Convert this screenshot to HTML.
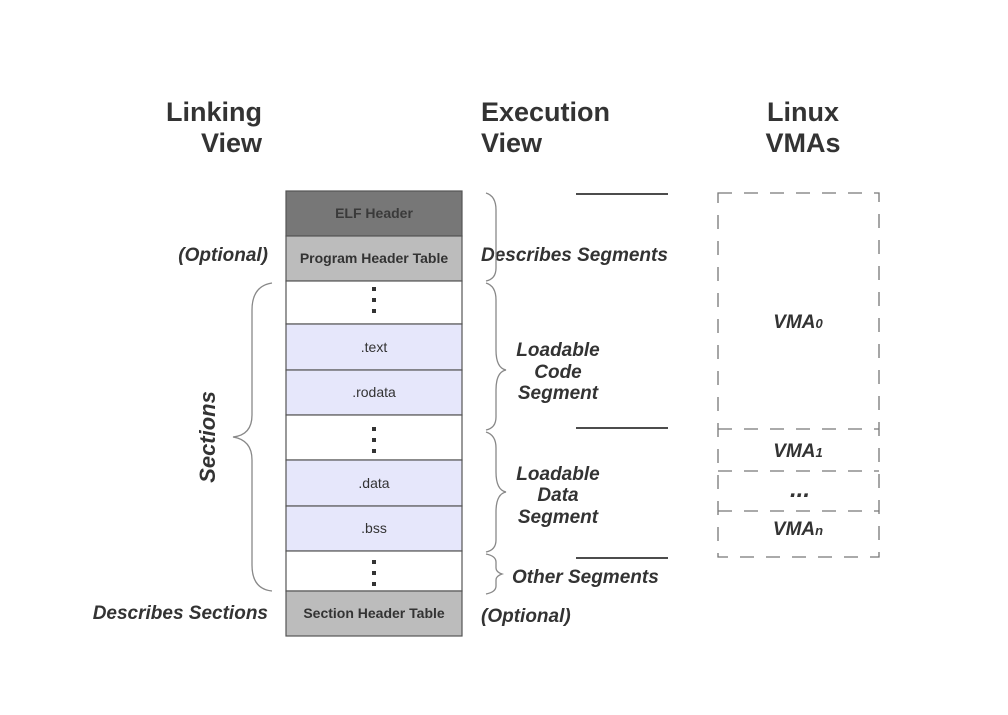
<!DOCTYPE html>
<html><head><style>body{margin:0;background:#fff}</style></head><body>
<svg width="1008" height="710" xmlns="http://www.w3.org/2000/svg" font-family="Liberation Sans, sans-serif">
<rect width="1008" height="710" fill="#fff"/>
<g font-weight="bold" font-size="27" fill="#333">
<text x="262" y="121" text-anchor="end">Linking</text>
<text x="262" y="152" text-anchor="end">View</text>
<text x="481" y="121">Execution</text>
<text x="481" y="152">View</text>
<text x="803" y="121" text-anchor="middle">Linux</text>
<text x="803" y="152" text-anchor="middle">VMAs</text>
</g>
<g stroke="#555" stroke-width="1.2">
<rect x="286" y="191" width="176" height="45" fill="#777"/>
<rect x="286" y="236" width="176" height="45" fill="#bcbcbc"/>
<rect x="286" y="281" width="176" height="43" fill="#fff"/>
<rect x="286" y="324" width="176" height="46" fill="#e6e7fb"/>
<rect x="286" y="370" width="176" height="45" fill="#e6e7fb"/>
<rect x="286" y="415" width="176" height="45" fill="#fff"/>
<rect x="286" y="460" width="176" height="46" fill="#e6e7fb"/>
<rect x="286" y="506" width="176" height="45" fill="#e6e7fb"/>
<rect x="286" y="551" width="176" height="40" fill="#fff"/>
<rect x="286" y="591" width="176" height="45" fill="#bcbcbc"/>
</g>
<g font-size="14" fill="#333" text-anchor="middle">
<text x="374" y="218" font-weight="bold" fill="#3a3a3a">ELF Header</text>
<text x="374" y="263" font-weight="bold">Program Header Table</text>
<text x="374" y="352">.text</text>
<text x="374" y="397">.rodata</text>
<text x="374" y="488">.data</text>
<text x="374" y="533">.bss</text>
<text x="374" y="618" font-weight="bold">Section Header Table</text>
</g>
<g fill="#333">
<rect x="372" y="287" width="4" height="4"/><rect x="372" y="298" width="4" height="4"/><rect x="372" y="309" width="4" height="4"/>
<rect x="372" y="427" width="4" height="4"/><rect x="372" y="438" width="4" height="4"/><rect x="372" y="449" width="4" height="4"/>
<rect x="372" y="560" width="4" height="4"/><rect x="372" y="571" width="4" height="4"/><rect x="372" y="582" width="4" height="4"/>
</g>
<g font-weight="bold" font-style="italic" font-size="19" fill="#333">
<text x="268" y="261" text-anchor="end">(Optional)</text>
<text x="268" y="619" text-anchor="end">Describes Sections</text>
<text x="481" y="261">Describes Segments</text>
<text x="558" y="356" text-anchor="middle">Loadable</text>
<text x="558" y="378" text-anchor="middle">Code</text>
<text x="558" y="399" text-anchor="middle">Segment</text>
<text x="558" y="480" text-anchor="middle">Loadable</text>
<text x="558" y="501" text-anchor="middle">Data</text>
<text x="558" y="523" text-anchor="middle">Segment</text>
<text x="512" y="583">Other Segments</text>
<text x="481" y="622">(Optional)</text>
<text transform="translate(215,437) rotate(-90)" text-anchor="middle" font-size="22">Sections</text>
<text x="798" y="328" text-anchor="middle">VMA<tspan font-size="13">0</tspan></text>
<text x="798" y="457" text-anchor="middle">VMA<tspan font-size="13">1</tspan></text>
<text x="800" y="497" text-anchor="middle" font-size="24">...</text>
<text x="798" y="535" text-anchor="middle">VMA<tspan font-size="13">n</tspan></text>
</g>
<g fill="none" stroke="#888" stroke-width="1.3">
<path d="M272,283 Q252,286 252,310 L252,415 Q252,435 233,437 Q252,440 252,460 L252,565 Q252,589 272,591"/>
<path d="M486,193 Q496,196 496,210 L496,268 Q496,279 486,281"/>
<path d="M486,283 Q496,286 496,300 L496,350 Q496,368 506,370 Q496,372 496,390 L496,417 Q496,428 486,430"/>
<path d="M486,432 Q496,435 496,448 L496,472 Q496,490 506,492 Q496,494 496,512 L496,540 Q496,550 486,552"/>
<path d="M486,554 Q496,556 496,562 L496,568 Q496,572 502,574 Q496,576 496,580 L496,586 Q496,592 486,594"/>
</g>
<g stroke="#111" stroke-width="1.5">
<line x1="576" y1="194" x2="668" y2="194"/>
<line x1="576" y1="428" x2="668" y2="428"/>
<line x1="576" y1="558" x2="668" y2="558"/>
</g>
<g fill="none" stroke="#777" stroke-width="1.3" stroke-dasharray="14,12">
<rect x="718" y="193" width="161" height="364"/>
<line x1="718" y1="429" x2="879" y2="429"/>
<line x1="718" y1="471" x2="879" y2="471"/>
<line x1="718" y1="511" x2="879" y2="511"/>
</g>
</svg>
</body></html>
